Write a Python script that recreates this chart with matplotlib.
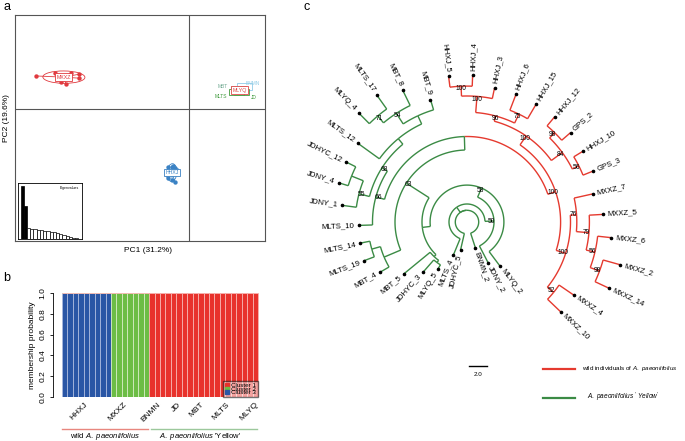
import numpy as np
import matplotlib.pyplot as plt
from matplotlib.patches import Ellipse, Patch, Rectangle
from matplotlib.lines import Line2D

plt.rcParams["font.family"] = ["Liberation Sans", "DejaVu Sans"]
plt.rcParams["mathtext.fontset"] = "custom"
plt.rcParams["mathtext.rm"] = "Liberation Sans"
plt.rcParams["mathtext.it"] = "Liberation Sans:italic"

W, H = 685, 441

# ---------------- panel a: PCA (s.class) ----------------
pc1_mxxz = [-6.15, -5.39, -4.75, -4.42, -4.42, -5.15, -4.95]
pc2_mxxz = [1.50, 1.64, 1.64, 1.58, 1.40, 1.24, 1.12]
pc1_hhxj = [-0.84, -0.68, -0.56, -0.48, -0.88, -0.84, -0.68, -0.56, -0.64]
pc2_hhxj = [-2.64, -2.64, -2.68, -2.77, -3.00, -3.14, -3.23, -3.32, -2.59]
pc1_yellow = [2.06, 2.02, 2.08, 2.04, 2.07, 2.03, 2.05, 2.01, 2.09, 2.04,
              2.06, 2.03, 2.07, 2.02, 2.05, 2.08, 2.04, 2.06, 2.03, 2.05]
pc2_yellow = [0.88, 0.85, 0.87, 0.84, 0.86, 0.89, 0.85, 0.87, 0.86, 0.84,
              0.88, 0.86, 0.85, 0.87, 0.89, 0.86, 0.84, 0.87, 0.85, 0.86]
yellow_pop = ["BNMN"] + ["JD"] * 6 + ["MBT"] * 4 + ["MLTS"] * 6 + ["MLYQ"] * 3
eigenvalues = [31.2, 19.6, 6.3, 6.0, 5.7, 5.4, 5.1, 4.8, 4.5, 4.2, 3.9,
               3.4, 2.9, 2.4, 1.8, 1.2, 0.6, 0.3]
pc1_pct, pc2_pct = 31.2, 19.6

# ---------------- panel b: STRUCTURE ----------------
q_cluster1 = [0] * 9 + [0] * 7 + [1] * 20   # red
q_cluster2 = [0] * 9 + [1] * 7 + [0] * 20   # green
q_cluster3 = [1] * 9 + [0] * 7 + [0] * 20   # blue
struct_groups = ["HHXJ", "MXXZ", "BNMN", "JD", "MBT", "MLTS", "MLYQ"]
struct_tick_pos = [3.5, 10.7, 17.0, 20.7, 25.0, 29.6, 34.9]

# ---------------- panel c: tree ----------------
leaf_names = ["BNMN_2", "JDNY_2", "MLYQ_2", "MXXZ_10", "MXXZ_4", "MXXZ_14",
              "MXXZ_2", "MXXZ_6", "MXXZ_5", "MXXZ_7", "GPS_3", "HHXJ_10",
              "GPS_2", "HHXJ_12", "HHXJ_15", "HHXJ_6", "HHXJ_3", "HHXJ_4",
              "HHXJ_5", "MBT_9", "MBT_8", "MLTS_17", "MLYQ_4", "MLTS_12",
              "JDHYC_12", "JDNY_4", "JDNY_1", "MLTS_10", "MLTS_14", "MLTS_19",
              "MBT_4", "MBT_5", "JDHYC_3", "MLYQ_5", "MLTS_4", "JDHYC_5"]
leaf_depth = [3.0, 5.1, 6.1, 14.4, 14.4, 17.4, 17.6, 16.1, 15.1, 14.3, 15.1,
              15.1, 15.2, 15.2, 15.2, 15.2, 15.2, 16.3, 16.3, 14.2, 16.3, 17.3,
              17.1, 15.0, 15.0, 14.9, 14.0, 12.0, 12.1, 12.2, 11.1, 9.1, 7.4,
              6.1, 4.0, 3.2]
# internal node: (children, depth, bootstrap)
nodes = {
    "r1": (["HHXJ_4", "HHXJ_5"], 15.1, 100),
    "r2": (["HHXJ_3", "r1"], 14.0, 100),
    "r3": (["HHXJ_15", "HHXJ_6"], 13.3, 75),
    "r4": (["r3", "r2"], 12.2, 96),
    "r5": (["GPS_2", "HHXJ_12"], 13.9, 98),
    "r6": (["GPS_3", "HHXJ_10"], 13.9, 56),
    "r7": (["r6", "r5"], 13.1, 84),
    "r8": (["r7", "r4"], 11.6, 100),
    "m1": (["MXXZ_14", "MXXZ_2"], 15.7, 98),
    "m2": (["m1", "MXXZ_6"], 14.6, 56),
    "m3": (["m2", "MXXZ_5"], 13.6, 79),
    "m4": (["m3", "MXXZ_7"], 12.2, 76),
    "m5": (["MXXZ_10", "MXXZ_4"], 12.4, 52),
    "m6": (["m5", "m4"], 11.5, 100),
    "wild": (["m6", "r8"], 10.4, 100),
    "g71": (["MLTS_17", "MLYQ_4"], 15.4, 71),
    "g54": (["MBT_8", "g71"], 14.4, 54),
    "g9": (["MBT_9", "g54"], 13.0, None),
    "g12": (["g9", "MLTS_12"], 12.0, None),
    "gjd": (["JDHYC_12", "JDNY_4"], 13.8, None),
    "g55": (["gjd", "JDNY_1"], 12.4, 55),
    "g68": (["g12", "g55"], 11.2, 68),
    "g66": (["g68", "MLTS_10"], 10.5, 66),
    "top": (["wild", "g66"], 9.5, None),
    "l1": (["MLTS_14", "MLTS_19"], 11.0, None),
    "l2": (["l1", "MBT_4"], 10.0, None),
    "P": (["top", "l2"], 8.0, 63),
    "lj": (["JDHYC_3", "MLYQ_5"], 5.6, None),
    "L": (["MBT_5", "lj"], 5.3, None),
    "D": (["P", "L"], 5.0, None),
    "C": (["MLYQ_2", "D"], 4.1, 58),
    "B": (["JDNY_2", "C"], 3.0, 50),
    "A": (["B", "MLTS_4"], 2.0, None),
    "root": (["BNMN_2", "A", "JDHYC_5"], 1.3, None),
}
wild_prefix = ("HHXJ", "GPS", "MXXZ")

RED, GREEN, BLUE = "#e8322c", "#6cbd45", "#2a56a5"
TREE_RED, TREE_GREEN = "#e53a2f", "#3b8b45"

fig = plt.figure(figsize=(W / 100, H / 100), dpi=100)


def box(x0, y0, x1, y1):
    return [x0 / W, 1 - y1 / H, (x1 - x0) / W, (y1 - y0) / H]


def fx(x):
    return x / W


def fy(y):
    return 1 - y / H


# ======== a ========
ax = fig.add_axes(box(15, 15, 265, 241))
ax.set_xlim(-7, 3.06)
ax.set_ylim(-6, 4.27)
ax.set_xticks([])
ax.set_yticks([])
for s in ax.spines.values():
    s.set_color("#555555")
    s.set_linewidth(0.8)
ax.axvline(0, color="#555555", lw=0.8, zorder=1)
ax.axhline(0, color="#555555", lw=0.8, zorder=1)
px_x = 10.06 / 250   # data units per pixel
px_y = 10.27 / 226


def sclass(xs, ys, color, label):
    xs, ys = np.asarray(xs), np.asarray(ys)
    cx, cy = xs.mean(), ys.mean()
    for x, y in zip(xs, ys):
        ax.plot([cx, x], [cy, y], color=color, lw=0.6, zorder=2)
    ax.scatter(xs, ys, s=10, color=color, zorder=3, linewidths=0)
    cov = np.cov(xs, ys, bias=True)
    vals, vecs = np.linalg.eigh(cov)
    ang = np.degrees(np.arctan2(vecs[1, 1], vecs[0, 1]))
    w, h = 2 * 1.5 * np.sqrt(vals[1]), 2 * 1.5 * np.sqrt(vals[0])
    ax.add_patch(Ellipse((cx, cy), w, h, angle=ang, fill=False,
                         edgecolor=color, lw=0.6, zorder=2))
    ax.text(cx, cy, label, fontsize=3.8, color=color, ha="center",
            va="center", zorder=5,
            bbox=dict(boxstyle="square,pad=0.25", fc="white",
                      ec=color, lw=0.6))


sclass(pc1_mxxz, pc2_mxxz, "#e0393e", "MXXZ")
sclass(pc1_hhxj, pc2_hhxj, "#3b82c4", "HHXJ")

pop_colors = {"BNMN": "#8fcbe6", "JD": "#3f9a3c", "MBT": "#6fa890",
              "MLTS": "#3f9a3c", "MLYQ": "#e04848"}
# label offsets in pixels, to mimic the overlapping labels
pop_offsets = {"BNMN": (13, 6), "JD": (14, -7), "MBT": (-17, 3),
               "MLTS": (-19, -6)}
box_offsets = {"BNMN": (4, 3), "JD": (2, -2), "MBT": (-1, 1),
               "MLTS": (-3, -2)}
yx = np.asarray(pc1_yellow)
yy = np.asarray(pc2_yellow)
pops = np.asarray(yellow_pop)
bw, bh = 15 * px_x, 6.5 * px_y
for p in ["BNMN", "JD", "MBT", "MLTS", "MLYQ"]:
    m = pops == p
    c = pop_colors[p]
    cx, cy = yx[m].mean(), yy[m].mean()
    ax.scatter(yx[m], yy[m], s=6, color=c, zorder=3, linewidths=0)
    if p == "MLYQ":
        ax.text(cx, cy, p, fontsize=3.8, color=c, ha="center",
                va="center", zorder=6,
                bbox=dict(boxstyle="square,pad=0.25", fc="white",
                          ec=c, lw=0.6))
    else:
        ox, oy = box_offsets[p]
        ax.add_patch(Rectangle((cx + ox * px_x - bw / 2,
                                cy + oy * px_y - bh / 2), bw, bh,
                               fc="white", ec=c, lw=0.6, zorder=4))
        lx, ly = pop_offsets[p]
        ax.text(cx + lx * px_x, cy + ly * px_y, p, fontsize=3.5, color=c,
                ha="center", va="center", zorder=6)

fig.text(fx(148), fy(250), f"PC1 ({pc1_pct}%)", fontsize=6, ha="center",
         va="center")
fig.text(fx(7), fy(118), f"PC2 ({pc2_pct}%)", fontsize=6, ha="center",
         va="center", rotation=90)

axi = fig.add_axes(box(18, 183, 82, 239))
k = np.arange(len(eigenvalues))
axi.bar(k, eigenvalues, width=1.0,
        color=["black" if i < 2 else "white" for i in k],
        edgecolor="black", linewidth=0.5)
axi.set_xlim(-1.3, 18.6)
axi.set_ylim(0, eigenvalues[0] * 1.06)
axi.set_xticks([])
axi.set_yticks([])
for s in axi.spines.values():
    s.set_linewidth(0.6)
axi.text(0.95, 0.95, "Eigenvalues", transform=axi.transAxes, fontsize=2.5,
         ha="right", va="top")

# ======== b ========
axb = fig.add_axes(box(53, 293, 262, 397))
idx = np.arange(len(q_cluster1))
q1, q2, q3 = map(np.asarray, (q_cluster1, q_cluster2, q_cluster3))
axb.bar(idx, q3, width=1, color=BLUE, edgecolor="#a9b9dd", linewidth=0.6)
axb.bar(idx, q2, width=1, bottom=q3, color=GREEN, edgecolor="#d3ecc2",
        linewidth=0.6)
axb.bar(idx, q1, width=1, bottom=q3 + q2, color=RED, edgecolor="#f7b3af",
        linewidth=0.6)
axb.set_xlim(-2.15, 36.23)
axb.set_ylim(0, 1)
for s in ["top", "right", "bottom"]:
    axb.spines[s].set_visible(False)
axb.spines["left"].set_linewidth(0.6)
axb.set_yticks(np.arange(0, 1.01, 0.2))
axb.set_yticklabels([f"{v:.1f}" for v in np.arange(0, 1.01, 0.2)],
                    rotation=90, va="center", fontsize=6)
axb.tick_params(axis="y", length=2.5, width=0.6, pad=2)
axb.set_xticks(struct_tick_pos)
axb.set_xticklabels(struct_groups, rotation=45, ha="right",
                    rotation_mode="anchor", fontsize=6)
axb.tick_params(axis="x", length=0, pad=3)
axb.set_ylabel("membership probability", fontsize=6, labelpad=3)
handles = [Patch(color=RED), Patch(color=GREEN), Patch(color=BLUE)]
axb.legend(handles, ["Cluster 1", "Cluster 2", "Cluster 3"],
           loc="lower right", bbox_to_anchor=(35.5, 0.0),
           bbox_transform=axb.transData, fontsize=4.5, labelspacing=-0.25,
           handlelength=0.7, handleheight=0.5, handletextpad=0.3,
           borderpad=0.3, borderaxespad=0, fancybox=False,
           edgecolor="black", framealpha=0.55)

fig.add_artist(Line2D([fx(62), fx(148)], [fy(429), fy(429)],
                      color="#e8877f", lw=1.0))
fig.add_artist(Line2D([fx(151), fx(257)], [fy(429), fy(429)],
                      color="#9cc89c", lw=1.0))
fig.text(fx(105), fy(437), r"wild $\it{A.\ paeoniifolius}$", fontsize=5.5,
         ha="center", va="center")
fig.text(fx(200), fy(437), r"$\it{A.\ paeoniifolius}$ 'Yellow'",
         fontsize=5.5, ha="center", va="center")

# ======== c ========
axc = fig.add_axes(box(290, 0, 685, 441))
u = 9.0  # pixels per branch-length unit
cx0, cy0 = 467, 222
axc.set_xlim((290 - cx0) / u, (685 - cx0) / u)
axc.set_ylim((cy0 - 441) / u, cy0 / u)
axc.axis("off")

start, step = -72.0, 9.4
leaf_angle = {n: start + step * i for i, n in enumerate(leaf_names)}
depth = dict(zip(leaf_names, leaf_depth))
for n, (ch, d, b) in nodes.items():
    depth[n] = d


def angle_of(n):
    if n in leaf_angle:
        return leaf_angle[n]
    a = [angle_of(c) for c in nodes[n][0]]
    return (min(a) + max(a)) / 2


def leaves_of(n):
    if n in leaf_angle:
        return [n]
    out = []
    for c in nodes[n][0]:
        out += leaves_of(c)
    return out


def color_of(n):
    wild = all(l.startswith(wild_prefix) for l in leaves_of(n))
    return TREE_RED if wild else TREE_GREEN


def pol(r, a):
    t = np.radians(a)
    return r * np.cos(t), r * np.sin(t)


for n, (ch, d, b) in nodes.items():
    a0 = angle_of(n)
    for c in ch:
        ac = angle_of(c)
        col = color_of(c)
        t = np.linspace(a0, ac, 60)
        xs, ys = pol(d, t)
        axc.plot(xs, ys, color=col, lw=1.0, solid_capstyle="butt")
        x1, y1 = pol(d, ac)
        x2, y2 = pol(depth[c], ac)
        axc.plot([x1, x2], [y1, y2], color=col, lw=1.0,
                 solid_capstyle="butt")
    if b is not None:
        x, y = pol(d - 0.3, a0)
        axc.text(x, y, str(b), fontsize=4.8, ha="center", va="center")

for n in leaf_names:
    a = leaf_angle[n]
    x, y = pol(depth[n], a)
    axc.plot(x, y, "o", color="black", ms=1.6)
    tx, ty = pol(depth[n] + 0.5, a)
    aa = a % 360
    if 90 < aa < 270:
        rot, ha = aa - 180, "right"
    else:
        rot, ha = a, "left"
    axc.text(tx, ty, n, fontsize=5.6, rotation=rot, ha=ha, va="center",
             rotation_mode="anchor")

# scale bar and legend
axc.plot([0.2, 2.2], [-16.0, -16.0], color="black", lw=1.0)
axc.text(1.2, -16.9, "2.0", fontsize=4.5, ha="center", va="center")
axc.plot([8.4, 12.0], [-16.3, -16.3], color=TREE_RED, lw=1.6)
axc.text(12.8, -16.3, r"wild individuals of $\it{A.\ paeoniifolius}$",
         fontsize=4.5, ha="left", va="center")
axc.plot([8.4, 12.0], [-19.5, -19.5], color=TREE_GREEN, lw=1.6)
axc.text(13.3, -19.5, r"$\it{A.\ paeoniifolius\ '\ Yellow'}$",
         fontsize=4.7, ha="left", va="center")

fig.text(fx(3), fy(1), "a", fontsize=9, ha="left", va="top")
fig.text(fx(3), fy(272), "b", fontsize=9, ha="left", va="top")
fig.text(fx(303), fy(1), "c", fontsize=9, ha="left", va="top")

fig.savefig("out.png", dpi=100)
